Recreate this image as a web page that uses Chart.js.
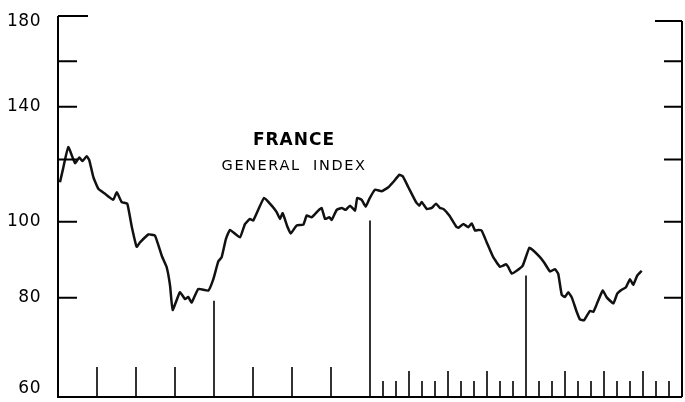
<!DOCTYPE html>
<html lang="en">
<head>
    <meta charset="UTF-8">
    <title>France General Index</title>
    <script src="https://cdn.jsdelivr.net/npm/chart.js"></script>
    <style>
        body { margin: 0; background: #fff; }
    </style>
</head>
<body>
    <canvas id="franceChart" width="685" height="402"></canvas>
    <script>
        // Months from the start of the chart
        const months = [
            0.15, 0.36, 0.79, 1.31, 1.64, 1.87, 2.21, 2.41, 2.72, 3.10,
            3.62, 4.25, 4.52, 4.90, 5.33, 5.67, 6.05, 6.31, 6.95, 7.46,
            7.98, 8.36, 8.62, 8.82, 9.38, 9.77, 10.02, 10.28, 10.79, 11.56,
            11.95, 12.33, 12.59, 12.92, 13.23, 14.00, 14.38, 14.77, 15.02, 15.85,
            16.44, 16.82, 17.08, 17.28, 17.64, 17.90, 18.36, 18.87, 19.13, 19.52,
            20.02, 20.28, 20.54, 20.87, 21.05, 21.44, 21.82, 22.13, 22.46, 22.85,
            23.02, 23.36, 23.67, 23.95, 24.38, 24.90, 25.41, 25.79, 26.25, 26.52,
            26.95, 27.54, 27.79, 27.98, 28.36, 28.75, 29.08, 29.38, 29.64, 30.10,
            30.62, 30.79, 31.18, 31.56, 31.82, 32.08, 32.33, 32.59, 32.98, 33.48,
            34.00, 34.25, 34.46, 34.64, 34.90, 35.28, 35.75, 36.25, 36.56, 37.02,
            37.38, 37.85, 38.23, 38.48, 38.75, 39.00, 39.25, 39.52, 39.90, 40.15,
            40.46, 40.92, 41.18, 41.44, 41.90, 42.21, 42.72, 43.02, 43.36, 43.69,
            44.00, 44.25, 44.56, 44.90
        ];

        // General index values
        const index = [
            112.2, 116.2, 124.4, 118.7, 120.7, 119.4, 121.1, 119.7, 113.9, 110.1,
            108.5, 106.6, 109.0, 105.9, 105.4, 98.6, 92.9, 94.1, 96.3, 96.0,
            90.5, 87.5, 82.9, 77.2, 81.3, 79.7, 80.2, 78.9, 82.1, 81.7,
            84.5, 89.0, 90.1, 95.1, 97.6, 95.5, 99.3, 100.8, 100.3, 107.2,
            104.8, 102.8, 100.8, 102.5, 98.6, 96.6, 98.9, 99.1, 101.8, 101.3,
            103.3, 104.1, 100.8, 101.3, 100.5, 103.5, 104.1, 103.5, 104.8, 103.3,
            107.2, 106.6, 104.5, 106.9, 109.8, 109.3, 110.6, 112.3, 114.7, 114.2,
            110.6, 105.9, 104.8, 105.9, 103.8, 104.1, 105.4, 104.1, 103.8, 101.8,
            98.6, 98.2, 99.3, 98.4, 99.5, 97.4, 97.6, 97.4, 94.1, 90.1,
            87.6, 87.9, 88.3, 87.5, 85.9, 86.6, 87.9, 92.6, 91.9, 90.3,
            88.8, 86.4, 87.0, 85.8, 80.7, 80.2, 81.3, 80.1, 76.8, 75.1,
            74.9, 77.0, 76.8, 78.5, 81.7, 80.1, 78.7, 81.0, 81.9, 82.5,
            84.5, 83.1, 85.4, 86.6
        ];

        // Year marker lines and the value they reach up to
        const yearMarks = [12, 24, 36];
        const yearMarkTops = [79.3, 100.3, 85.4];

        // Time ticks along the bottom
        const quarterTicks = [3, 6, 9, 15, 18, 21];
        const monthTicks = [25, 26, 28, 29, 31, 32, 34, 35, 37, 38, 40, 41, 43, 44, 46, 47];
        const bigMonthTicks = [27, 30, 33, 39, 42, 45];

        // Vertical scale
        const axisTicks = [180, 160, 140, 120, 100, 80];
        const axisLabels = [180, 140, 100, 80, 60];

        const points = months.map((m, i) => ({x: m, y: index[i]}));

        const framePlugin = {
            id: 'frame',
            afterDraw(chart) {
                const ctx = chart.ctx;
                const xs = chart.scales.x;
                const ys = chart.scales.y;
                const left = xs.left, right = xs.right, bottom = ys.bottom;
                ctx.save();
                ctx.strokeStyle = '#000';
                ctx.lineWidth = 2;
                ctx.lineCap = 'butt';

                // axes
                ctx.beginPath();
                ctx.moveTo(left, ys.getPixelForValue(180) - 5);
                ctx.lineTo(left, bottom + 1);
                ctx.lineTo(right, bottom + 1);
                ctx.moveTo(right, ys.getPixelForValue(180));
                ctx.lineTo(right, bottom + 1);
                ctx.stroke();

                // value ticks, pointing inwards on both sides
                ctx.beginPath();
                axisTicks.forEach(v => {
                    const y = ys.getPixelForValue(v);
                    const lenL = v === 180 ? 30 : 19;
                    const lenR = v === 180 ? 27 : 18;
                    ctx.moveTo(left, v === 180 ? y - 5 : y);
                    ctx.lineTo(left + lenL, v === 180 ? y - 5 : y);
                    ctx.moveTo(right, y);
                    ctx.lineTo(right - lenR, y);
                });
                ctx.stroke();

                // time ticks
                ctx.lineWidth = 1.6;
                ctx.beginPath();
                const vtick = (m, len) => {
                    const x = xs.getPixelForValue(m);
                    ctx.moveTo(x, bottom);
                    ctx.lineTo(x, bottom - len);
                };
                quarterTicks.forEach(m => vtick(m, 29));
                monthTicks.forEach(m => vtick(m, 15));
                bigMonthTicks.forEach(m => vtick(m, 25));
                yearMarks.forEach((m, i) => {
                    const x = xs.getPixelForValue(m);
                    ctx.moveTo(x, bottom);
                    ctx.lineTo(x, ys.getPixelForValue(yearMarkTops[i]));
                });
                ctx.stroke();

                // value labels
                ctx.fillStyle = '#000';
                ctx.font = '17px "DejaVu Sans"';
                ctx.letterSpacing = '0.5px';
                ctx.textAlign = 'right';
                ctx.textBaseline = 'middle';
                axisLabels.forEach(v => {
                    const y = Math.min(Math.max(ys.getPixelForValue(v), 22), 389);
                    ctx.fillText(String(v), 41, y);
                });

                // title
                ctx.textAlign = 'center';
                ctx.font = 'bold 17px "DejaVu Sans"';
                ctx.letterSpacing = '1px';
                ctx.fillText('FRANCE', 294, 141);
                ctx.font = '14.5px "DejaVu Sans"';
                ctx.letterSpacing = '1.6px';
                ctx.fillText('GENERAL  INDEX', 294, 166);
                ctx.restore();
            }
        };

        const config = {
            type: 'line',
            data: {
                datasets: [{
                    label: 'France general index',
                    data: points,
                    borderColor: '#111',
                    borderWidth: 2.5,
                    pointRadius: 0,
                    tension: 0.12,
                    fill: false
                }]
            },
            options: {
                responsive: false,
                animation: false,
                layout: {
                    padding: {left: 58, right: 3, top: 21, bottom: 6}
                },
                scales: {
                    x: {
                        type: 'linear',
                        min: 0,
                        max: 48,
                        display: false
                    },
                    y: {
                        type: 'logarithmic',
                        min: 60,
                        max: 180,
                        display: false
                    }
                },
                plugins: {
                    legend: {display: false},
                    tooltip: {enabled: false}
                }
            },
            plugins: [framePlugin]
        };

        const franceChart = new Chart(
            document.getElementById('franceChart'),
            config
        );
    </script>
</body>
</html>
